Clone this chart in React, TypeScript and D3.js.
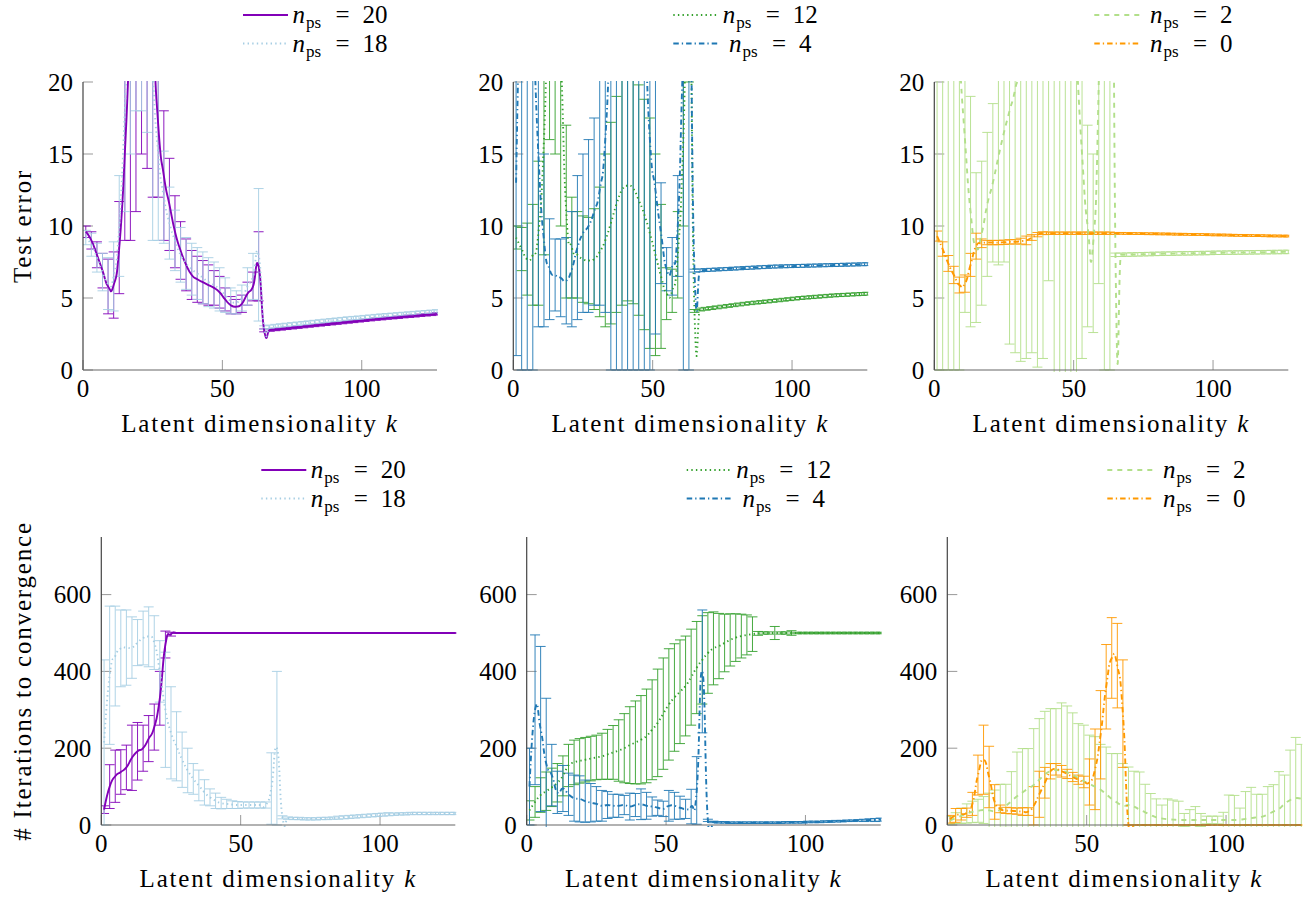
import React from 'react';
import * as d3 from 'd3';

// ---------- data ----------
const K = [1,3,5,7,9,11,13,15,17,19,21,23,25,27,29,31,33,35,37,39,41,43,45,47,49,51,53,55,57,59,61,63,
  65,67,69,71,73,75,77,79,81,83,85,87,89,91,93,95,97,99,101,103,105,107,109,111,113,115,117,119,121,123,125,127];

const xTicks = [0, 50, 100];
const teTicks = [0, 5, 10, 15, 20];
const itTicks = [0, 200, 400, 600];

// Test error, n_ps = 20
const teMean20 = [9.6,9.0,8.0,6.9,5.8,5.9,8.5,15,25,40,45,40,25,17,13.5,11.5,9.6,8.3,7.3,6.6,6.3,6.1,5.9,5.7,5.4,4.9,4.5,4.4,4.6,5.3,5.8,7.2,
  2.75,2.78,2.81,2.85,2.89,2.93,2.97,3.01,3.05,3.09,3.13,3.17,3.21,3.25,3.29,3.33,3.37,3.41,3.45,3.49,3.53,3.56,3.6,3.63,3.66,3.7,3.73,3.76,3.8,3.83,3.86,3.9];
const teErr20 = [0.4,0.6,0.9,1.2,1.9,2.3,3.2,6,16,29,30,26,13,5,4.5,3.2,2.5,2.0,1.8,1.7,1.6,1.5,1.4,1.2,1.1,0.8,0.6,0.5,0.6,0.8,1.0,2.4,
  0.1,0.09,0.08,0.08,0.08,0.08,0.08,0.08,0.08,0.08,0.08,0.08,0.08,0.08,0.08,0.08,0.08,0.08,0.08,0.08,0.08,0.08,0.08,0.08,0.08,0.08,0.08,0.08,0.08,0.08,0.08,0.08];
// Test error, n_ps = 18
const teMean18 = [9.2,8.7,7.8,6.8,6.0,6.5,10,18,28,38,40,32,21,15,12,10.2,9.0,8.0,7.4,7.0,6.7,6.4,6.1,5.9,5.6,5.2,4.8,4.7,5.0,5.8,6.5,8.0,
  2.95,3.0,3.05,3.09,3.13,3.17,3.21,3.25,3.29,3.33,3.37,3.41,3.45,3.49,3.53,3.57,3.6,3.63,3.67,3.7,3.74,3.77,3.8,3.83,3.86,3.89,3.92,3.95,3.98,4.01,4.04,4.07];
const teErr18 = [0.5,0.8,1.0,1.3,1.8,2.4,3.5,7,13,20,22,15.5,12,6,3.2,2.5,2.1,1.9,1.8,1.8,1.8,1.8,1.7,1.6,1.5,1.2,0.9,0.8,0.9,1.3,1.6,4.6,
  0.12,0.12,0.12,0.12,0.12,0.12,0.12,0.12,0.12,0.12,0.12,0.12,0.12,0.12,0.12,0.12,0.12,0.12,0.12,0.12,0.12,0.12,0.12,0.12,0.12,0.12,0.12,0.12,0.12,0.12,0.12,0.12];
// Test error, n_ps = 12
const teMean12 = [9.2,8.4,7.7,8.0,9.5,16,28,30,22,11,8.5,8.0,7.7,7.6,7.7,8.2,9.0,10.2,11.5,12.5,12.8,12.6,11.8,10.8,9.5,8.0,6.5,5.3,5.5,8,16,30,
  4.1,4.2,4.25,4.3,4.35,4.4,4.45,4.5,4.55,4.6,4.64,4.68,4.72,4.76,4.8,4.84,4.88,4.92,4.96,5.0,5.03,5.06,5.09,5.12,5.15,5.18,5.2,5.22,5.24,5.26,5.28,5.3];
const teErr12 = [0.8,1.5,2.5,3.5,5,8,12,15,12,6,3.5,3.0,3.0,3.0,3.5,4.5,6,7,7.5,8,8,8,8,8,8,7,5,1.8,1.5,3,6,10,
  0.1,0.1,0.1,0.1,0.1,0.1,0.1,0.1,0.1,0.1,0.1,0.1,0.1,0.1,0.1,0.1,0.1,0.1,0.1,0.1,0.1,0.1,0.1,0.1,0.1,0.1,0.1,0.1,0.1,0.1,0.1,0.1];
// Test error, n_ps = 4
const teMean4 = [13,30,35,25,15,9,7,6.6,6.4,6.2,7,8.5,9.5,10,11,12.5,16,25,35,40,40,38,32,25,16,12.5,9.5,7,7.2,10,22,30,
  6.9,6.92,6.94,6.96,6.98,7.0,7.02,7.04,7.06,7.08,7.1,7.12,7.14,7.16,7.18,7.19,7.2,7.21,7.22,7.23,7.24,7.25,7.26,7.27,7.28,7.29,7.3,7.31,7.32,7.33,7.34,7.35];
const teErr4 = [12,30,35,25,12,6,3.5,2.5,2.7,3.0,4,5,5.5,6,6.5,8,12,25,35,40,40,38,32,25,16,10,3.5,1.5,2,3.5,22,30,
  0.1,0.1,0.1,0.1,0.1,0.1,0.1,0.1,0.1,0.1,0.1,0.1,0.1,0.1,0.1,0.1,0.1,0.1,0.1,0.1,0.1,0.1,0.1,0.1,0.1,0.1,0.1,0.1,0.1,0.1,0.1,0.1];
// Test error, n_ps = 2
const teMean2 = [40,45,40,30,22,16,11,8.5,9.5,11.5,13,14.8,16.5,18,19.5,22,30,35,38,40,40,40,38,35,30,22,15,10,8.8,20,45,70,
  8.0,8.0,8.01,8.02,8.03,8.04,8.05,8.06,8.07,8.08,8.08,8.09,8.1,8.1,8.11,8.12,8.12,8.13,8.14,8.14,8.15,8.15,8.16,8.16,8.17,8.17,8.18,8.18,8.19,8.19,8.2,8.2];
const teErr2 = [40,45,40,30,22,12,8,5.2,5,5,5.5,7.5,9,16.2,18.3,21.4,29.2,33.8,37.8,39.2,33.8,41,40,36,33,23,14.2,7,6.2,14,45,70,
  0.12,0.12,0.12,0.12,0.12,0.12,0.12,0.12,0.12,0.12,0.12,0.12,0.12,0.12,0.12,0.12,0.12,0.12,0.12,0.12,0.12,0.12,0.12,0.12,0.12,0.12,0.12,0.12,0.12,0.12,0.12,0.12];
// Test error, n_ps = 0
const teMean0 = [9.3,8.4,7.4,6.6,5.9,6.0,7.3,8.6,8.8,8.85,8.85,8.85,8.87,8.9,8.9,8.95,9.0,9.2,9.4,9.5,9.5,9.5,9.5,9.5,9.5,9.5,9.5,9.5,9.5,9.5,9.5,9.5,
  9.49,9.49,9.48,9.48,9.47,9.47,9.46,9.46,9.45,9.45,9.44,9.43,9.43,9.42,9.41,9.41,9.4,9.39,9.38,9.38,9.37,9.36,9.35,9.35,9.34,9.33,9.33,9.32,9.31,9.31,9.3,9.3];
const teErr0 = [0.35,0.5,0.55,0.6,0.55,0.6,0.8,0.9,0.3,0.15,0.15,0.15,0.15,0.15,0.15,0.2,0.3,0.2,0.15,0.1,0.08,0.08,0.08,0.08,0.08,0.08,0.08,0.08,0.08,0.08,0.08,0.08,
  0.06,0.06,0.06,0.06,0.06,0.06,0.06,0.06,0.06,0.06,0.06,0.06,0.06,0.06,0.06,0.06,0.06,0.06,0.06,0.06,0.06,0.06,0.06,0.06,0.06,0.06,0.06,0.06,0.06,0.06,0.06,0.06];

// Iterations, n_ps = 20
const itMean20 = [40,100,127,138,150,175,192,200,225,255,330,470,497,500,500,500,500,500,500,500,500,500,500,500,500,500,500,500,500,500,500,500,
  500,500,500,500,500,500,500,500,500,500,500,500,500,500,500,500,500,500,500,500,500,500,500,500,500,500,500,500,500,500,500,500];
const itErr20 = [10,57,68,58,58,85,75,60,60,60,70,35,5,1,1,1,1,1,1,1,1,1,1,1,1,1,1,1,1,1,1,1,
  1,1,1,1,1,1,1,1,1,1,1,1,1,1,1,1,1,1,1,1,1,1,1,1,1,1,1,1,1,1,1,1];
// Iterations, n_ps = 18
const itMean18 = [215,390,440,460,462,462,475,487,490,475,400,300,240,205,170,142,120,103,85,72,63,57,55,53,52,52,52,52,52,52,95,200,
  20,18,17,17,16,16,16,17,17,18,19,20,21,22,23,24,25,26,27,28,28,29,29,30,30,30,30,30,30,30,30,30];
const itErr18 = [215,180,130,100,98,80,60,70,78,70,80,150,120,90,72,58,40,40,33,22,20,15,12,10,9,8,8,8,8,8,93,200,
  4,3,3,3,3,3,3,3,3,3,4,4,4,4,4,4,4,4,4,4,3,3,3,3,3,3,3,3,3,3,3,3];
// Iterations, n_ps = 12
const itMean12 = [38,60,78,88,98,110,128,155,163,167,170,173,176,179,184,189,194,200,208,215,222,232,248,266,290,314,332,347,362,385,410,430,
  448,460,466,474,482,488,492,495,497,499,500,500,500,500,500,500,500,500,500,500,500,500,500,500,500,500,500,500,500,500,500,500];
const itErr12 = [25,40,45,50,50,50,52,55,58,58,58,58,58,60,65,70,80,90,100,108,115,122,130,140,145,145,140,135,130,125,120,115,
  105,95,85,75,68,62,57,52,45,5,3,3,17,3,3,6,2,2,2,2,2,2,2,2,2,2,2,2,2,2,2,2];
// Iterations, n_ps = 4
const itMean4 = [100,300,250,160,130,85,95,80,70,68,62,58,55,50,52,50,50,52,48,52,54,50,48,45,42,50,50,45,42,48,90,400,
  12,8,7,7,6,6,6,6,6,6,6,6,6,6,7,7,7,7,8,8,8,9,9,10,10,11,11,12,12,13,13,14];
const itErr4 = [100,195,215,170,80,55,60,55,60,60,55,50,45,40,35,30,30,25,35,30,40,35,25,20,20,40,35,30,25,45,88,160,
  3,2,2,2,2,2,2,2,2,2,2,2,2,2,2,2,2,2,2,2,2,2,2,2,2,2,2,2,3,3,4,4];
// Iterations, n_ps = 2
const itMean2 = [12,18,24,30,34,37,39,38,36,40,50,62,75,85,95,104,118,132,140,143,141,137,130,122,114,107,100,92,80,68,58,50,
  52,48,40,33,26,20,17,15,14,13,13,13,13,13,13,13,13,13,13,13,14,16,18,20,22,28,35,42,55,65,70,68];
const itErr2 = [10,14,20,25,28,30,35,45,55,66,56,77,115,114,104,147,159,164,163,160,177,173,162,142,146,127,130,118,123,118,128,110,
  99,92,98,73,56,48,35,53,51,49,17,27,35,17,10,10,10,20,65,64,30,71,80,60,58,72,70,97,75,130,158,142];
// Iterations, n_ps = 0
const itMean0 = [15,25,28,32,55,130,170,125,60,42,38,37,36,35,35,50,80,110,140,145,140,133,125,118,112,112,145,235,360,435,415,290,
  0,0,0,0,0,0,0,0,0,0,0,0,0,0,0,0,0,0,0,0,0,0,0,0,0,0,0,0,0,0,0,0];
const itErr0 = [10,18,15,12,30,52,90,80,45,10,8,8,8,10,10,50,60,40,20,15,15,12,12,12,15,60,105,115,110,105,110,140,
  0,0,0,0,0,0,0,0,0,0,0,0,0,0,0,0,0,0,0,0,0,0,0,0,0,0,0,0,0,0,0,0];

// ---------- styles ----------
const C_PURPLE = '#8200b8';
const C_LBLUE = '#a6cee3';
const C_GREEN = '#33a02c';
const C_BLUE = '#1f78b4';
const C_LGREEN = '#b2df8a';
const C_ORANGE = '#ff9900';

const SOLID = 'none';
const DOTTED = '1.4 3.2';
const DASHDOT = '5.5 3 1.3 3';
const DASHED = '5 5';

type S = { label: string; mean: number[]; err: number[]; color: string; dash: string };

const FONT = "'Liberation Serif', 'DejaVu Serif', serif";
const FS = 25;
const LS = 1.8;
const PW = 354;
const PH = 288;

function Legend({ x0, y0, series }: { x0: number; y0: number; series: S[] }) {
  return (
    <g fontFamily={FONT} fontSize={FS}>
      {series.map((s, i) => {
        const yy = y0 - 67 + i * 28.5;
        const w = 70 + 12.5 * s.label.length;
        const xs = x0 + 257 - w / 2;
        return (
          <g key={i}>
            <line x1={x0 + 160} x2={x0 + 205} y1={yy} y2={yy} stroke={s.color} strokeWidth={1.8}
              strokeDasharray={s.dash === 'none' ? undefined : s.dash} />
            <text x={xs} y={yy + 8}>
              <tspan fontStyle="italic">n</tspan>
              <tspan fontSize={17} dy={5} dx={1}>ps</tspan>
            </text>
            <text x={xs + 43} y={yy + 8}>=</text>
            <text x={xs + 70} y={yy + 8}>{s.label}</text>
          </g>
        );
      })}
    </g>
  );
}

function Panel({ id, x0, y0, yMax, yTicks, series, yLabel }:
  { id: string; x0: number; y0: number; yMax: number; yTicks: number[]; series: S[]; yLabel?: string }) {
  const x = d3.scaleLinear().domain([0, 127]).range([x0, x0 + PW]);
  const y = d3.scaleLinear().domain([0, yMax]).range([y0 + PH, y0]);
  const line = d3.line<number>()
    .x((_, i) => x(K[i]))
    .y(d => y(d))
    .curve(d3.curveCardinal.tension(-0.65));
  const bars = (s: S) =>
    K.map((k, i) => {
      const xx = x(k);
      const lo = y(s.mean[i] - s.err[i]);
      const hi = y(s.mean[i] + s.err[i]);
      return `M${xx},${lo}V${hi}M${xx - 5},${lo}H${xx + 5}M${xx - 5},${hi}H${xx + 5}`;
    }).join('');
  const yb = y0 + PH;
  return (
    <g>
      <defs>
        <clipPath id={id}>
          <rect x={x0} y={y0 - 1} width={PW + 1} height={PH + 3} />
        </clipPath>
      </defs>
      {yTicks.map(t => (
        <line key={'yt' + t} x1={x0} x2={x0 + 10} y1={y(t)} y2={y(t)} stroke="#999" strokeWidth={1} />
      ))}
      {xTicks.map(t => (
        <line key={'xt' + t} x1={x(t)} x2={x(t)} y1={yb} y2={yb - 10} stroke="#999" strokeWidth={1} />
      ))}
      <g clipPath={`url(#${id})`}>
        {series.map((s, i) => (
          <path key={'b' + i} d={bars(s)} fill="none" stroke={s.color} strokeWidth={1} opacity={0.9} />
        ))}
        {series.map((s, i) => (
          <path key={'l' + i} d={line(s.mean) || ''} fill="none" stroke={s.color} strokeWidth={1.9}
            strokeDasharray={s.dash === 'none' ? undefined : s.dash} />
        ))}
      </g>
      <line x1={x0} x2={x0} y1={y0} y2={yb} stroke="#444" strokeWidth={1.2} />
      <line x1={x0} x2={x0 + PW} y1={yb} y2={yb} stroke="#666" strokeWidth={1.2} />
      {yTicks.map(t => (
        <text key={'yl' + t} x={x0 - 10} y={y(t) + 8.5} textAnchor="end" fontFamily={FONT} fontSize={FS}>{t}</text>
      ))}
      {xTicks.map(t => (
        <text key={'xl' + t} x={x(t)} y={yb + 27} textAnchor="middle" fontFamily={FONT} fontSize={FS}>{t}</text>
      ))}
      <text x={x0 + PW / 2} y={yb + 62} textAnchor="middle" fontFamily={FONT} fontSize={FS} letterSpacing={LS}>
        Latent dimensionality <tspan fontStyle="italic">k</tspan>
      </text>
      {yLabel && (
        <text transform={`translate(22,${y0 + PH / 2}) rotate(-90)`} textAnchor="middle" dominantBaseline="central"
          fontFamily={FONT} fontSize={FS} letterSpacing={LS}>{yLabel}</text>
      )}
      <Legend x0={x0} y0={y0} series={series} />
    </g>
  );
}

export default function App() {
  const top: S[][] = [
    [
      { label: '20', mean: teMean20, err: teErr20, color: C_PURPLE, dash: SOLID },
      { label: '18', mean: teMean18, err: teErr18, color: C_LBLUE, dash: DOTTED },
    ],
    [
      { label: '12', mean: teMean12, err: teErr12, color: C_GREEN, dash: DOTTED },
      { label: '4', mean: teMean4, err: teErr4, color: C_BLUE, dash: DASHDOT },
    ],
    [
      { label: '2', mean: teMean2, err: teErr2, color: C_LGREEN, dash: DASHED },
      { label: '0', mean: teMean0, err: teErr0, color: C_ORANGE, dash: DASHDOT },
    ],
  ];
  const bottom: S[][] = [
    [
      { label: '20', mean: itMean20, err: itErr20, color: C_PURPLE, dash: SOLID },
      { label: '18', mean: itMean18, err: itErr18, color: C_LBLUE, dash: DOTTED },
    ],
    [
      { label: '12', mean: itMean12, err: itErr12, color: C_GREEN, dash: DOTTED },
      { label: '4', mean: itMean4, err: itErr4, color: C_BLUE, dash: DASHDOT },
    ],
    [
      { label: '2', mean: itMean2, err: itErr2, color: C_LGREEN, dash: DASHED },
      { label: '0', mean: itMean0, err: itErr0, color: C_ORANGE, dash: DASHDOT },
    ],
  ];
  const topX = [83, 513.3, 934.3];
  const botX = [101.3, 526.7, 947.3];
  return (
    <svg width={1307} height={898} style={{ position: 'absolute', left: 0, top: 0, background: '#fff' }}>
      {top.map((s, i) => (
        <Panel key={'t' + i} id={'ct' + i} x0={topX[i]} y0={82} yMax={20} yTicks={teTicks} series={s}
          yLabel={i === 0 ? 'Test error' : undefined} />
      ))}
      {bottom.map((s, i) => (
        <Panel key={'b' + i} id={'cb' + i} x0={botX[i]} y0={537} yMax={750} yTicks={itTicks} series={s}
          yLabel={i === 0 ? '# Iterations to convergence' : undefined} />
      ))}
    </svg>
  );
}
